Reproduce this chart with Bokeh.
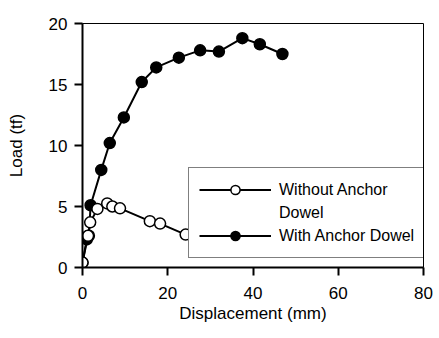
from bokeh.plotting import figure
from bokeh.models import Legend, LegendItem, Range1d, FixedTicker
from bokeh.embed import file_html
from bokeh.resources import INLINE

# Load-displacement curves (displacement in mm, load in tf)
with_dowel_disp = [0.0, 1.0, 1.5, 1.9, 4.4, 6.4, 9.7, 13.9, 17.3, 22.6, 27.6, 32.0, 37.5, 41.6, 46.9]
with_dowel_load = [0.4, 2.3, 2.6, 5.1, 8.0, 10.2, 12.3, 15.2, 16.4, 17.2, 17.8, 17.7, 18.8, 18.3, 17.5]

without_dowel_disp = [0.0, 1.3, 1.8, 3.5, 5.8, 7.0, 8.8, 15.8, 18.2, 24.2]
without_dowel_load = [0.4, 2.6, 3.7, 4.8, 5.25, 5.0, 4.85, 3.8, 3.6, 2.7]

x_ticks = [0, 20, 40, 60, 80]
y_ticks = [0, 5, 10, 15, 20]

FONT = "Liberation Sans"

p = figure(width=439, height=338, output_backend="svg", toolbar_location=None,
           x_range=Range1d(0, 80), y_range=Range1d(0, 20),
           min_border_left=82, min_border_right=16, min_border_top=23, min_border_bottom=71,
           background_fill_color="white", border_fill_color="white")

p.grid.visible = False
p.outline_line_color = "black"
p.outline_line_width = 1

p.xaxis.ticker = FixedTicker(ticks=x_ticks)
p.yaxis.ticker = FixedTicker(ticks=y_ticks)
p.xaxis.axis_label = "Displacement (mm)"
p.yaxis.axis_label = "Load (tf)"

for ax in (p.xaxis, p.yaxis):
    ax.axis_line_width = 2
    ax.axis_line_color = "black"
    ax.major_tick_in = 0
    ax.major_tick_out = 8
    ax.major_tick_line_width = 2
    ax.minor_tick_line_color = None
    ax.major_label_text_font = FONT
    ax.major_label_text_font_size = "17px"
    ax.major_label_text_color = "black"
    ax.axis_label_text_font = FONT
    ax.axis_label_text_font_size = "17px"
    ax.axis_label_text_font_style = "normal"
    ax.axis_label_text_color = "black"

p.xaxis.major_label_standoff = 11
p.xaxis.axis_label_standoff = 2
p.yaxis.major_label_standoff = 7
p.yaxis.axis_label_standoff = 20

# Anchored specimen: filled markers
l_with = p.line(with_dowel_disp, with_dowel_load, line_color="black", line_width=2)
m_with = p.scatter(with_dowel_disp, with_dowel_load, size=11, marker="circle",
                   fill_color="black", line_color="black", line_width=1.5)

# Unanchored specimen: open markers
l_wo = p.line(without_dowel_disp, without_dowel_load, line_color="black", line_width=2)
m_wo = p.scatter(without_dowel_disp, without_dowel_load, size=11, marker="circle",
                 fill_color="white", line_color="black", line_width=1.5)

# The long label is split over two rows so the key sits on its first line
legend = Legend(items=[
    LegendItem(label="Without Anchor", renderers=[l_wo, m_wo]),
    LegendItem(label="Dowel", renderers=[]),
    LegendItem(label="With Anchor Dowel", renderers=[l_with, m_with]),
], location=(106, 9))
legend.border_line_color = "black"
legend.border_line_width = 1
legend.background_fill_color = "white"
legend.background_fill_alpha = 1
legend.label_text_font = FONT
legend.label_text_font_size = "16px"
legend.label_text_color = "black"
legend.label_height = 21
legend.glyph_width = 72
legend.glyph_height = 23
legend.label_standoff = 8
legend.padding = 10
legend.spacing = 0
legend.margin = 0
p.add_layout(legend, "center")

open("out.html", "w").write(file_html(p, INLINE))
